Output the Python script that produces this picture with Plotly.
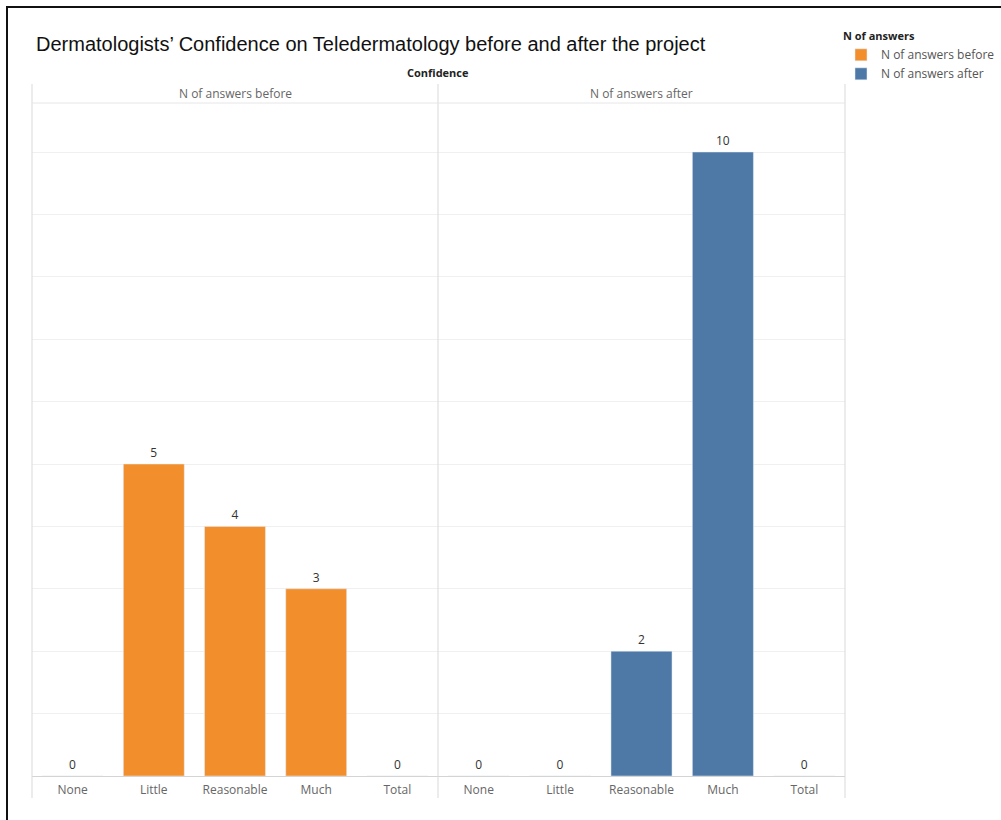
import plotly.graph_objects as go

categories = ["None", "Little", "Reasonable", "Much", "Total"]
before_vals = [0, 5, 4, 3, 0]
after_vals = [0, 0, 2, 10, 0]
series_names = ["N of answers before", "N of answers after"]
colors = ["#F28E2B", "#4E79A7"]
title = "Dermatologists\u2019 Confidence on Teledermatology before and after the project"

W, H = 1001, 820
def px(x): return x / W
def py(y): return 1 - y / H

FONT = "Open Sans"
lab_font = dict(size=12, color="#333333", family=FONT)
fig = go.Figure()
fig.add_trace(go.Bar(x=categories, y=before_vals, name=series_names[0], marker_color=colors[0],
                     xaxis="x", yaxis="y", width=0.75, text=before_vals, textposition="outside",
                     textfont=lab_font, outsidetextfont=lab_font, cliponaxis=False))
fig.add_trace(go.Bar(x=categories, y=after_vals, name=series_names[1], marker_color=colors[1],
                     xaxis="x2", yaxis="y2", width=0.75, text=after_vals, textposition="outside",
                     textfont=lab_font, outsidetextfont=lab_font, cliponaxis=False))

x_left, x_mid, x_right = 32, 438, 845
y_top, y_base = 103, 776
yrange = [0, (y_base - y_top) / 62.4]

axis_common = dict(showgrid=False, zeroline=False, showline=True, linecolor="#d4d4d4", linewidth=1,
                   ticks="", ticklabelstandoff=3,
                   tickfont=dict(size=12, color="#666666", family=FONT), fixedrange=True)
yaxis_common = dict(range=yrange, showgrid=True, gridcolor="#f0f0f0", gridwidth=1, dtick=1,
                    showticklabels=False, zeroline=False, showline=False, fixedrange=True)

fig.update_layout(
    width=W, height=H, margin=dict(l=0, r=0, t=0, b=0),
    paper_bgcolor="white", plot_bgcolor="white",
    xaxis=dict(domain=[px(x_left), px(x_mid)], anchor="y", **axis_common),
    xaxis2=dict(domain=[px(x_mid), px(x_right)], anchor="y2", **axis_common),
    yaxis=dict(domain=[py(y_base), py(y_top)], anchor="x", **yaxis_common),
    yaxis2=dict(domain=[py(y_base), py(y_top)], anchor="x2", **yaxis_common),
    bargap=0.25, showlegend=True,
    legend=dict(x=px(841), y=py(26), xanchor="left", yanchor="top",
                title=dict(text="<b>N of answers</b>", font=dict(size=11, color="#222222", family=FONT)),
                font=dict(size=12, color="#555555", family=FONT), tracegroupgap=0,
                bgcolor="rgba(0,0,0,0)", itemclick=False),
    font=dict(family=FONT),
)

line_c = "#d9d9d9"
shapes = []
for xv in (x_left, x_mid, x_right):
    shapes.append(dict(type="line", xref="paper", yref="paper", x0=px(xv), x1=px(xv),
                       y0=py(84), y1=py(798), line=dict(color=line_c, width=1)))
shapes.append(dict(type="line", xref="paper", yref="paper", x0=px(x_left), x1=px(x_right),
                   y0=py(y_top), y1=py(y_top), line=dict(color="#e6e6e6", width=1)))
# outer frame
shapes.append(dict(type="line", xref="paper", yref="paper", x0=px(6), x1=1, y0=py(7), y1=py(7),
                   line=dict(color="#111111", width=2)))
shapes.append(dict(type="line", xref="paper", yref="paper", x0=px(7), x1=px(7), y0=py(6), y1=0,
                   line=dict(color="#111111", width=2)))
fig.update_layout(shapes=shapes)

ann = [
    dict(text=title, x=px(34), y=py(44), xanchor="left", yanchor="middle",
         font=dict(size=20, color="#111111", family="Liberation Sans")),
    dict(text="<b>Confidence</b>", x=px(438), y=py(73), xanchor="center", yanchor="middle",
         font=dict(size=11, color="#222222", family=FONT)),
    dict(text=series_names[0], x=px((x_left + x_mid) / 2), y=py(94), xanchor="center", yanchor="middle",
         font=dict(size=12, color="#666666", family=FONT)),
    dict(text=series_names[1], x=px((x_mid + x_right) / 2), y=py(94), xanchor="center", yanchor="middle",
         font=dict(size=12, color="#666666", family=FONT)),
]
for a in ann:
    a.update(xref="paper", yref="paper", showarrow=False)
fig.update_layout(annotations=ann)

fig.write_html("out.html")
